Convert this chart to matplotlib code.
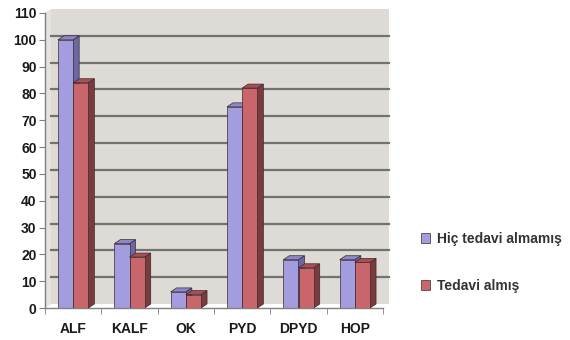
import matplotlib.pyplot as plt
from matplotlib.patches import Polygon, Rectangle
import numpy as np

plt.rcParams['font.family'] = ['Liberation Sans', 'DejaVu Sans']

categories = ['ALF', 'KALF', 'OK', 'PYD', 'DPYD', 'HOP']
hic_tedavi = [100, 24, 6, 75, 18, 18]
tedavi = [84, 19, 5, 82, 15, 17]
series_names = ['Hiç tedavi almamış', 'Tedavi almış']
yticks = list(range(0, 111, 10))

front_cols = ['#a39ddf', '#c8666c']
side_cols = ['#6c68a8', '#7a3a3e']
top_cols = ['#8d87cf', '#a84e54']

fig = plt.figure(figsize=(5.7, 3.4), dpi=100)
ax = fig.add_axes([45 / 570, 32 / 340, 338 / 570, 295 / 340])
ax.set_xlim(-0.5, len(categories) - 0.5)
ax.set_ylim(0, 110)
ax.patch.set_visible(False)

# depth of the pseudo 3D effect, in data units (about 6 px right, 4 px up)
px_x = 338 / len(categories)
px_y = 295 / 110
ddx = 6 / px_x
ddy = 4 / px_y

# back wall and gridlines, pushed back by the depth
ax.add_patch(Rectangle((-0.5 + ddx, ddy), len(categories), 110, facecolor='#dedad6',
                       edgecolor='none', zorder=0, clip_on=False))
ax.add_patch(Polygon([(-0.5, 0), (-0.5 + ddx, ddy), (-0.5 + ddx, 110 + ddy), (-0.5, 110)],
                     closed=True, facecolor='#e6e3df', edgecolor='none', zorder=0, clip_on=False))
for yv in yticks[1:-1]:
    ax.plot([-0.5 + ddx, len(categories) - 0.5 + ddx], [yv + ddy, yv + ddy],
            color='#727272', lw=1.6, zorder=1, clip_on=False)

w = 0.27
x = np.arange(len(categories))
for k, vals in enumerate([hic_tedavi, tedavi]):
    for i, v in enumerate(vals):
        x0 = x[i] - w + k * w
        x1 = x0 + w
        # side and top faces
        ax.add_patch(Polygon([(x1, 0), (x1 + ddx, ddy), (x1 + ddx, v + ddy), (x1, v)],
                             closed=True, facecolor=side_cols[k], edgecolor='#3a2a2a',
                             lw=0.5, zorder=2 + k, clip_on=False))
        ax.add_patch(Polygon([(x0, v), (x0 + ddx, v + ddy), (x1 + ddx, v + ddy), (x1, v)],
                             closed=True, facecolor=top_cols[k], edgecolor='#3a2a2a',
                             lw=0.5, zorder=2 + k, clip_on=False))
    ax.bar(x - w + k * w, vals, width=w, align='edge', color=front_cols[k],
           edgecolor='#3a2a2a', lw=0.5, zorder=2 + k, label=series_names[k])

ax.set_yticks(yticks)
ax.set_xticks(x)
ax.set_xticklabels(categories)
ax.set_xticks(np.arange(len(categories) + 1) - 0.5, minor=True)
ax.tick_params(axis='x', which='major', length=0, pad=10)
ax.tick_params(axis='x', which='minor', length=4, color='#808080')
ax.tick_params(axis='y', length=4, color='#808080', pad=2)
for lab in ax.get_xticklabels() + ax.get_yticklabels():
    lab.set_fontweight('bold')
    lab.set_fontsize(10)
    lab.set_color('#1a1a1a')

for side in ['top', 'right']:
    ax.spines[side].set_visible(False)
for side in ['left', 'bottom']:
    ax.spines[side].set_color('#808080')
    ax.spines[side].set_linewidth(1.0)

leg = fig.legend(loc='upper left', bbox_to_anchor=(415 / 570, 1 - 226 / 340),
                 frameon=False, fontsize=10, handlelength=0.7, handleheight=0.7,
                 handletextpad=0.5, labelspacing=2.4, borderaxespad=0)
for t in leg.get_texts():
    t.set_fontweight('bold')
    t.set_color('#333333')

plt.savefig('out.png', dpi=100)
